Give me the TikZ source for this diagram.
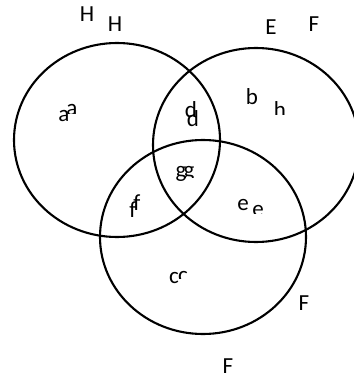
\documentclass[tikz,border=0pt]{standalone}
\usepackage{fontspec}
\setmainfont{Carlito}
\usetikzlibrary{shapes.geometric}
\begin{document}
\begin{tikzpicture}[x=1pt,y=-1pt,
  setring/.style={draw=black,line width=2.1pt,ellipse,minimum width=206pt,minimum height=194pt,inner sep=0pt},
  lbl/.style={inner sep=0pt,anchor=base,font=\fontsize{23}{27}\selectfont}]
\useasboundingbox (0,0) rectangle (353,379);
\node[setring] (ringH) at (117,140) {};
\node[setring] (ringE) at (256,145) {};
\node[setring] (ringF) at (203,237) {};
% labels
\node[lbl] (H1) at (87,22) {H};
\node[lbl] (H2) at (115,32) {H};
\node[lbl] (E1) at (271,35) {E};
\node[lbl] (F1) at (314,32) {F};
\node[lbl] (F2) at (304,310) {F};
\node[lbl] (F3) at (228,373) {F};
\node[lbl] (a1) at (64,122) {a};
\node[lbl] (b1) at (252,105) {b};
\node[lbl] (d1) at (191,118) {d};
\node[lbl] (d2) at (193,127) {d};
\node[lbl] (g1) at (181,178) {g};
\node[lbl] (f1) at (137,210) {f};
\node[lbl] (e1) at (243,210) {e};
\node[lbl] (c1) at (174,283) {c};
\begin{scope}\clip (60,90) rectangle (90,114);
\node[lbl] (a2) at (72,116) {a};\end{scope}
\begin{scope}\clip (265,90) rectangle (300,115);
\node[lbl] (h2) at (280,118) {h};\end{scope}
\begin{scope}\clip (180,150) rectangle (200,177);
\node[lbl] (g2) at (189,177) {g};\end{scope}
\begin{scope}\clip (120,200) rectangle (150,230);
\node[lbl] (f2) at (133,217) {f};\end{scope}
\begin{scope}\clip (248,190) rectangle (275,213);
\node[lbl] (e2) at (258,216) {e};\end{scope}
\begin{scope}\clip (170,260) rectangle (195,278);
\node[lbl] (c2) at (183,282) {c};\end{scope}
\end{tikzpicture}
\end{document}
